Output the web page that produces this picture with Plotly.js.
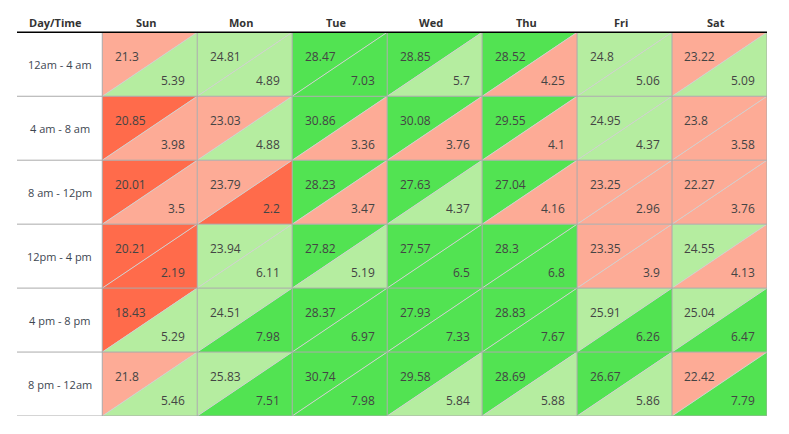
<!DOCTYPE html>
<html>
<head>
<meta charset="utf-8">
<script src="https://cdn.plot.ly/plotly-3.0.1.min.js"></script>
<style>html,body{margin:0;padding:0;background:#fff;}#chart{width:789px;height:434px;}</style>
</head>
<body>
<div id="chart"></div>
<script>
const days = ['Sun', 'Mon', 'Tue', 'Wed', 'Thu', 'Fri', 'Sat'];
const times = ['12am - 4 am', '4 am - 8 am', '8 am - 12pm', '12pm - 4 pm', '4 pm - 8 pm', '8 pm - 12am'];
const cornerLabel = 'Day/Time';
const topValues = [
  [21.3, 24.81, 28.47, 28.85, 28.52, 24.8, 23.22],
  [20.85, 23.03, 30.86, 30.08, 29.55, 24.95, 23.8],
  [20.01, 23.79, 28.23, 27.63, 27.04, 23.25, 22.27],
  [20.21, 23.94, 27.82, 27.57, 28.3, 23.35, 24.55],
  [18.43, 24.51, 28.37, 27.93, 28.83, 25.91, 25.04],
  [21.8, 25.83, 30.74, 29.58, 28.69, 26.67, 22.42]
];
const bottomValues = [
  [5.39, 4.89, 7.03, 5.7, 4.25, 5.06, 5.09],
  [3.98, 4.88, 3.36, 3.76, 4.1, 4.37, 3.58],
  [3.5, 2.2, 3.47, 4.37, 4.16, 2.96, 3.76],
  [2.19, 6.11, 5.19, 6.5, 6.8, 3.9, 4.13],
  [5.29, 7.98, 6.97, 7.33, 7.67, 6.26, 6.47],
  [5.46, 7.51, 7.98, 5.84, 5.88, 5.86, 7.79]
];

// colour rules
const C_DARK = '#ff6b4b', C_SALMON = '#fdab96', C_LIGHT = '#b5eda0', C_GREEN = '#52e352';
function topColor(v) { return v < 21 ? C_DARK : v < 23.9 ? C_SALMON : v < 26 ? C_LIGHT : C_GREEN; }
function bottomColor(v) { return v < 2.5 ? C_DARK : v < 4.3 ? C_SALMON : v < 6.2 ? C_LIGHT : C_GREEN; }

const LABEL_W = 0.898;   // width of label column in cell units
const HEADER_H = 0.505;  // header height in row units
const nC = days.length, nR = times.length;

const traces = [];
for (let r = 0; r < nR; r++) {
  for (let c = 0; c < nC; c++) {
    traces.push({
      type: 'scatter', mode: 'lines', fill: 'toself', hoverinfo: 'skip',
      x: [c, c + 1, c, c], y: [r, r, r + 1, r],
      fillcolor: topColor(topValues[r][c]), line: {width: 0}, showlegend: false
    });
    traces.push({
      type: 'scatter', mode: 'lines', fill: 'toself', hoverinfo: 'skip',
      x: [c + 1, c + 1, c, c + 1], y: [r, r + 1, r + 1, r],
      fillcolor: bottomColor(bottomValues[r][c]), line: {width: 0}, showlegend: false
    });
  }
}
// diagonals
const dx = [], dy = [];
for (let r = 0; r < nR; r++) for (let c = 0; c < nC; c++) { dx.push(c, c + 1, null); dy.push(r + 1, r, null); }
traces.push({type: 'scatter', mode: 'lines', x: dx, y: dy, line: {color: '#cfcfcf', width: 1}, hoverinfo: 'skip', showlegend: false});
// grid
const gx = [], gy = [];
for (let r = 1; r <= nR; r++) { gx.push(-LABEL_W, nC, null); gy.push(r, r, null); }
for (let c = 0; c <= nC; c++) { gx.push(c, c, null); gy.push(0, nR, null); }
traces.push({type: 'scatter', mode: 'lines', x: gx, y: gy, line: {color: '#aaaaaa', width: 1}, hoverinfo: 'skip', showlegend: false});
// header line
traces.push({type: 'scatter', mode: 'lines', x: [-LABEL_W, nC], y: [0, 0], line: {color: '#000', width: 1.6}, hoverinfo: 'skip', showlegend: false});

const annotations = [];
const valFont = {family: 'Open Sans, sans-serif', size: 12, color: '#444'};
for (let r = 0; r < nR; r++) {
  for (let c = 0; c < nC; c++) {
    annotations.push({x: c + 0.11, y: r + 0.375, xref: 'x', yref: 'y', text: String(topValues[r][c]),
      showarrow: false, xanchor: 'left', yanchor: 'middle', font: valFont});
    annotations.push({x: c + 0.895, y: r + 0.75, xref: 'x', yref: 'y', text: String(bottomValues[r][c]),
      showarrow: false, xanchor: 'right', yanchor: 'middle', font: valFont});
  }
  annotations.push({x: -LABEL_W / 2, y: r + 0.5, xref: 'x', yref: 'y', text: times[r], showarrow: false,
    xanchor: 'center', yanchor: 'middle', font: {family: 'Open Sans, sans-serif', size: 11, color: '#3d4651'}});
}
const hdrFont = {family: 'Open Sans, sans-serif', size: 11, color: '#333'};
for (let c = 0; c < nC; c++) {
  annotations.push({x: c + 0.465, y: -0.16, xref: 'x', yref: 'y', text: '<b>' + days[c] + '</b>', showarrow: false,
    xanchor: 'center', yanchor: 'middle', font: hdrFont});
}
annotations.push({x: -LABEL_W / 2 - 0.04, y: -0.16, xref: 'x', yref: 'y', text: '<b>' + cornerLabel + '</b>', showarrow: false,
  xanchor: 'center', yanchor: 'middle', font: hdrFont});

const layout = {
  width: 789, height: 434,
  margin: {l: 17, r: 22, t: 0, b: 18},
  paper_bgcolor: '#fff', plot_bgcolor: '#fff',
  xaxis: {range: [-LABEL_W, nC], visible: false, fixedrange: true},
  yaxis: {range: [nR, -HEADER_H], visible: false, fixedrange: true},
  annotations: annotations,
  showlegend: false
};
Plotly.newPlot('chart', traces, layout, {staticPlot: true, displayModeBar: false});
</script>
</body>
</html>
